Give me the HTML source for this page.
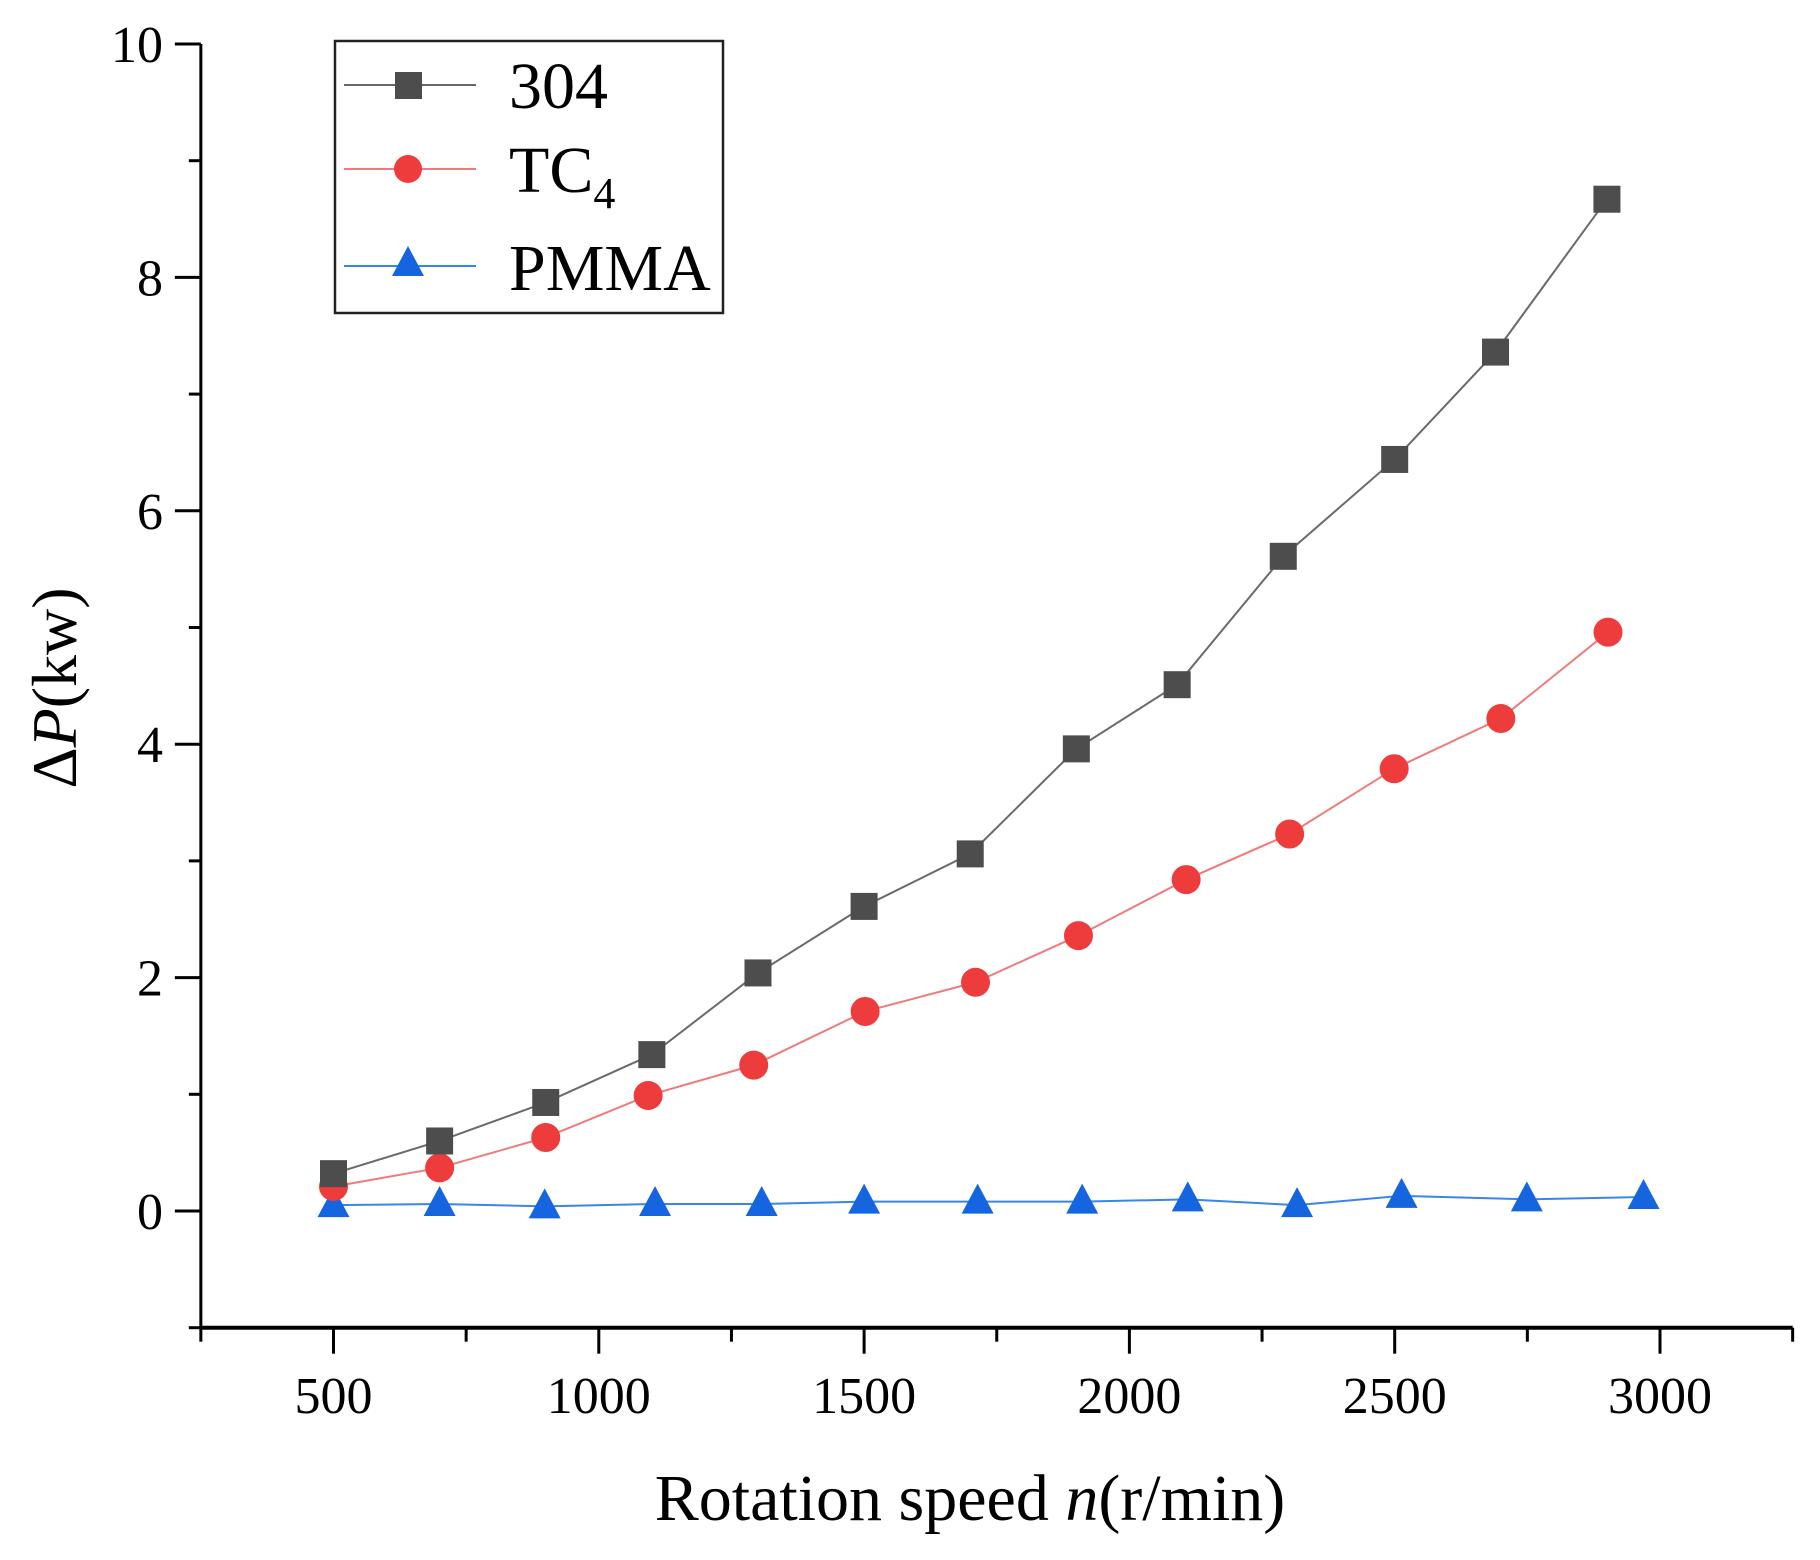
<!DOCTYPE html>
<html><head><meta charset="utf-8">
<style>
html,body{margin:0;padding:0;background:#fff;}
svg{display:block;}
text{font-family:"Liberation Serif",serif;fill:#000;}
</style></head>
<body>
<svg id="chart" width="1820" height="1560" viewBox="0 0 1820 1560">
<g id="axes"></g>
<g id="series"></g>
<text x="970" y="1520" font-size="66" text-anchor="middle">Rotation speed <tspan font-style="italic">n</tspan>(r/min)</text>
<text transform="translate(76,688) rotate(-90)" font-size="64" text-anchor="middle">Δ<tspan font-style="italic">P</tspan>(kw)</text>
<g id="legend">
<rect x="335" y="41" width="388" height="272" fill="#fff" stroke="#222" stroke-width="2.5"/>
<g>
<line x1="344" y1="85" x2="476" y2="85" stroke="#666" stroke-width="2"/>
<rect x="395" y="72" width="27" height="27" fill="#4d4d4d"/>
<text x="509" y="108" font-size="66">304</text></g>
<g>
<line x1="344" y1="169" x2="476" y2="169" stroke="#f07a7a" stroke-width="2"/>
<circle cx="408" cy="169" r="14" fill="#ee3b3b"/>
<text x="509" y="192" font-size="66">TC<tspan font-size="44" dy="16">4</tspan></text></g>
<g>
<line x1="344" y1="266" x2="476" y2="266" stroke="#3a85e8" stroke-width="2"/>
<polygon points="408,246 424,276 392,276" fill="#1565e0"/>
<text x="509" y="290" font-size="66">PMMA</text></g>
</g>
</svg>
<script>
const xValues304 = [500,700,900,1100,1300,1500,1700,1900,2090,2290,2500,2690,2900];
const yValues304 = [0.32,0.6,0.93,1.34,2.04,2.61,3.06,3.96,4.51,5.61,6.44,7.36,8.67];
const xValuesTC4 = [500,700,900,1093,1292,1502,1710,1904,2107,2302,2499,2700,2902];
const yValuesTC4 = [0.21,0.37,0.63,0.99,1.25,1.71,1.96,2.36,2.84,3.23,3.79,4.22,4.96];
const xValuesPMMA = [500,700,898,1106,1307,1500,1714,1911,2110,2316,2513,2749,2969];
const yValuesPMMA = [0.05,0.06,0.04,0.06,0.06,0.08,0.08,0.08,0.1,0.05,0.13,0.1,0.12];
const xTickLabels = [500,1000,1500,2000,2500,3000];
const yTickLabels = [0,2,4,6,8,10];

const NS='http://www.w3.org/2000/svg';
function X(v){return 333.5+(v-500)*265.3/500;}
function Y(v){return 1211-v*116.7;}
function mk(tag,attrs,parent){const e=document.createElementNS(NS,tag);for(const k in attrs)e.setAttribute(k,attrs[k]);parent.appendChild(e);return e;}
const axes=document.getElementById('axes');
const series=document.getElementById('series');
const x0=X(250), x1=X(3250), yb=Y(-1), yt=Y(10);
let a=mk('line',{x1:x0,y1:yb,x2:x1,y2:yb,stroke:'#000','stroke-width':4},axes);


a=mk('line',{x1:x0,y1:yb+2,x2:x0,y2:yt,stroke:'#000','stroke-width':3},axes);


for(let v=250;v<=3250;v+=250){
  const major=(v%500===0);
  const t=mk('line',{x1:X(v),y1:yb,x2:X(v),y2:yb+(major?26:14),stroke:'#000','stroke-width':3},axes);
  
  
}
xTickLabels.forEach(v=>{
  const t=mk('text',{x:X(v),y:1413,'font-size':52,'text-anchor':'middle'},axes);
  t.textContent=v;
  
  
});
for(let v=-1;v<=10;v+=1){
  const major=(v%2===0);
  const t=mk('line',{x1:x0,y1:Y(v),x2:x0-(major?26:12),y2:Y(v),stroke:'#000','stroke-width':3},axes);
  
  
}
yTickLabels.forEach(v=>{
  const t=mk('text',{x:163,y:Y(v)+18,'font-size':52,'text-anchor':'end'},axes);
  t.textContent=v;
  
  
});
function drawSeries(xs,ys,lineColor,fill,shape,name){
  const g=mk('g',{},series);
  
  
  const pts=xs.map((x,i)=>X(x)+','+Y(ys[i])).join(' ');
  const pl=mk('polyline',{points:pts,fill:'none',stroke:lineColor,'stroke-width':2},g);
  
  
  xs.forEach((x,i)=>{
    const cx=X(x), cy=Y(ys[i]);
    let m;
    if(shape==='square') m=mk('rect',{x:cx-13.5,y:cy-13.5,width:27,height:27,fill:fill},g);
    else if(shape==='circle') m=mk('circle',{cx:cx,cy:cy,r:14.5,fill:fill},g);
    else m=mk('polygon',{points:`${cx},${cy-18} ${cx+16},${cy+12} ${cx-16},${cy+12}`,fill:fill},g);
    
    
  });
}
drawSeries(xValuesPMMA,yValuesPMMA,'#3a85e8','#1565e0','triangle','pmma');
drawSeries(xValuesTC4,yValuesTC4,'#f07a7a','#ee3b3b','circle','tc4');
drawSeries(xValues304,yValues304,'#6a6a6a','#4d4d4d','square','304');
</script>
</body></html>
